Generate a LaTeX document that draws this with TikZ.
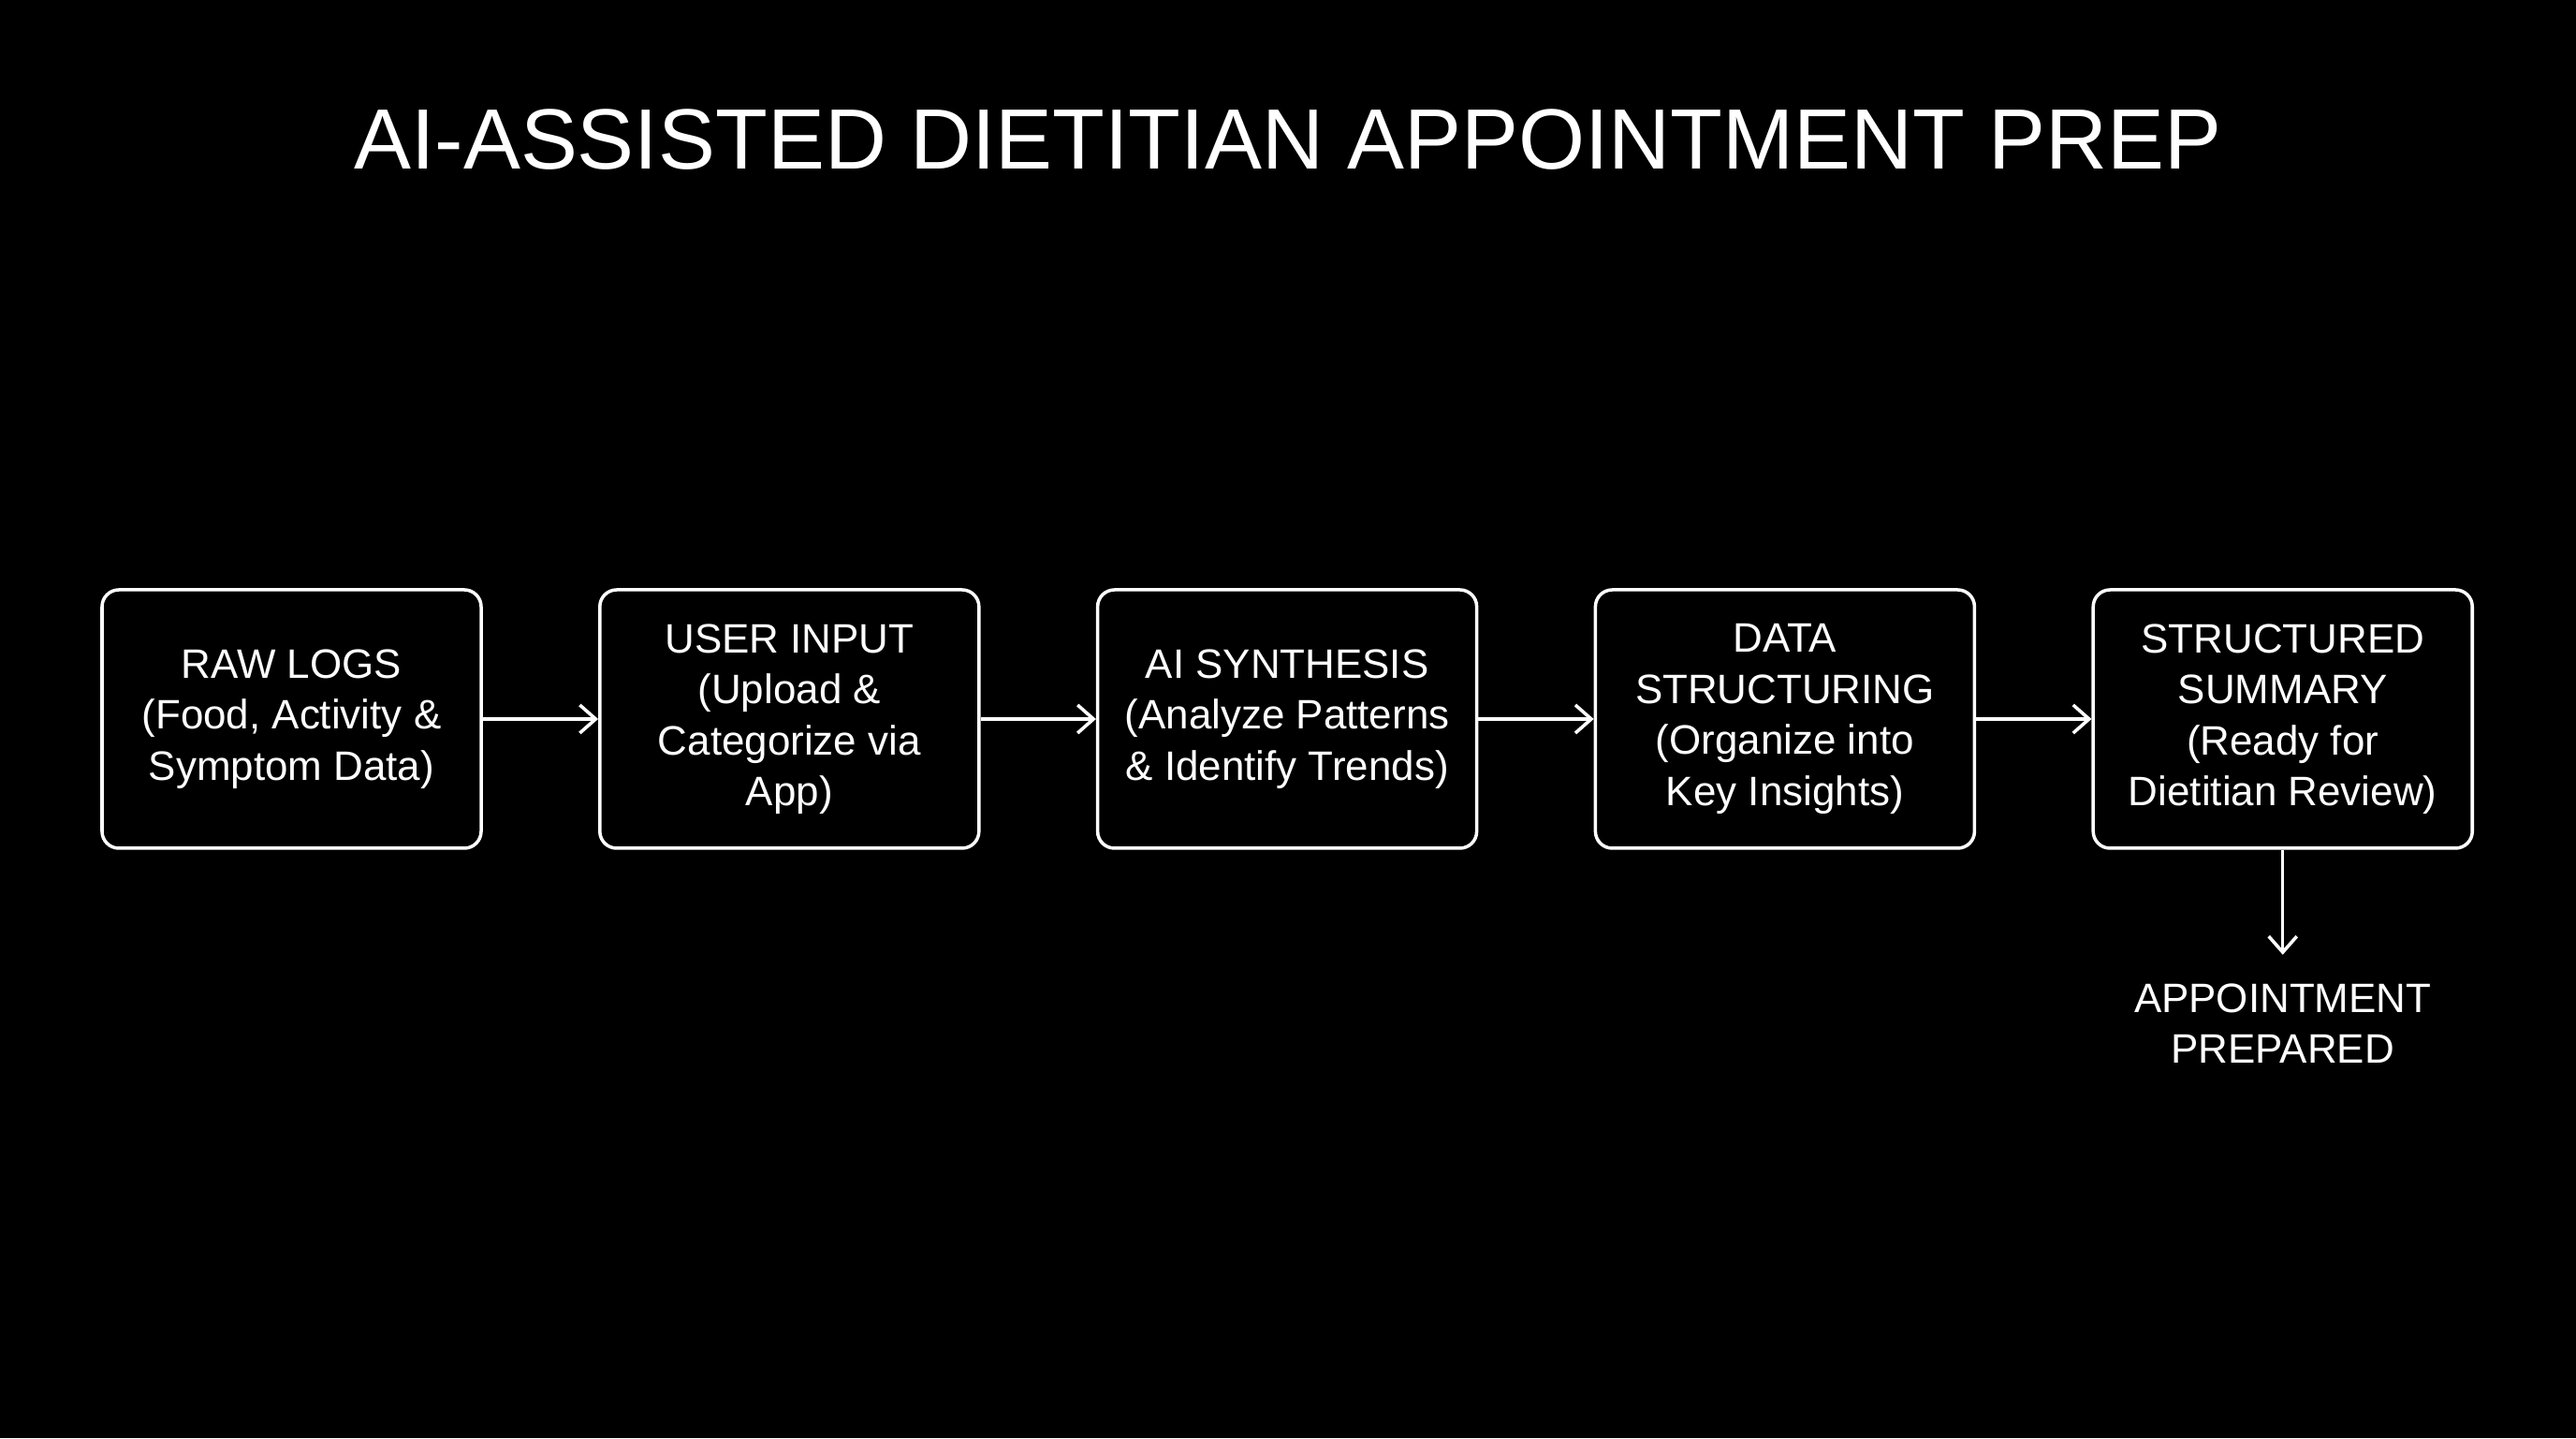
\documentclass[tikz,border=0pt]{standalone}
\usepackage{fontspec}
\setmainfont{Liberation Sans}
\usetikzlibrary{arrows.meta}
\usetikzlibrary{calc}
\usetikzlibrary{positioning}

\tikzset{
    stepbox/.style={draw=white, line width=1pt, rounded corners=0.18cm,
        minimum width=4.05cm, minimum height=2.76cm, inner sep=0pt,
        align=center, text=white, font=\fontsize{12.5}{15.5}\selectfont},
    flowarrow/.style={draw=white, line width=1pt, -{Straight Barb[length=1.7mm,width=3mm]}},
    endlabel/.style={align=center, text=white, inner sep=0pt, font=\fontsize{12.5}{15.5}\selectfont}
}

\begin{document}
\begin{tikzpicture}
        \newcommand{\figdietwidth}{27.52}
        \newcommand{\figdietheight}{15.36}
        \newcommand{\figdietboxy}{7.68}
        \newcommand{\figdietboxax}{3.115}
        \newcommand{\figdietpitch}{5.318}
        \fill[black] (0,0) rectangle (\figdietwidth,\figdietheight);
        \useasboundingbox (0,0) rectangle (\figdietwidth,\figdietheight);
        \node[text=white, font=\fontsize{26}{30}\selectfont] (title) at (0.5*\figdietwidth,13.87) {AI-ASSISTED DIETITIAN APPOINTMENT PREP};
        \node[stepbox] (rawlogs) at (\figdietboxax,\figdietboxy) {RAW LOGS\\(Food, Activity \&\\Symptom Data)};
        \node[stepbox] (userinput) at (\figdietboxax+\figdietpitch,\figdietboxy) {USER INPUT\\(Upload \&\\Categorize via\\App)};
        \node[stepbox] (synthesis) at (\figdietboxax+2*\figdietpitch,\figdietboxy) {AI SYNTHESIS\\(Analyze Patterns\\\& Identify Trends)};
        \node[stepbox] (structuring) at (\figdietboxax+3*\figdietpitch,\figdietboxy) {DATA\\STRUCTURING\\(Organize into\\Key Insights)};
        \node[stepbox] (summary) at (\figdietboxax+4*\figdietpitch,\figdietboxy) {STRUCTURED\\SUMMARY\\(Ready for\\Dietitian Review)};
        \coordinate (arrowend) at ($(summary.south)+(0,-1.12)$);
        \node[endlabel, below=0.3cm of arrowend] (prepared) {APPOINTMENT\\PREPARED};
        \draw[flowarrow] (rawlogs) -- (userinput);
        \draw[flowarrow] (userinput) -- (synthesis);
        \draw[flowarrow] (synthesis) -- (structuring);
        \draw[flowarrow] (structuring) -- (summary);
        \draw[flowarrow] (summary) -- (arrowend);
    \end{tikzpicture}
\end{document}
